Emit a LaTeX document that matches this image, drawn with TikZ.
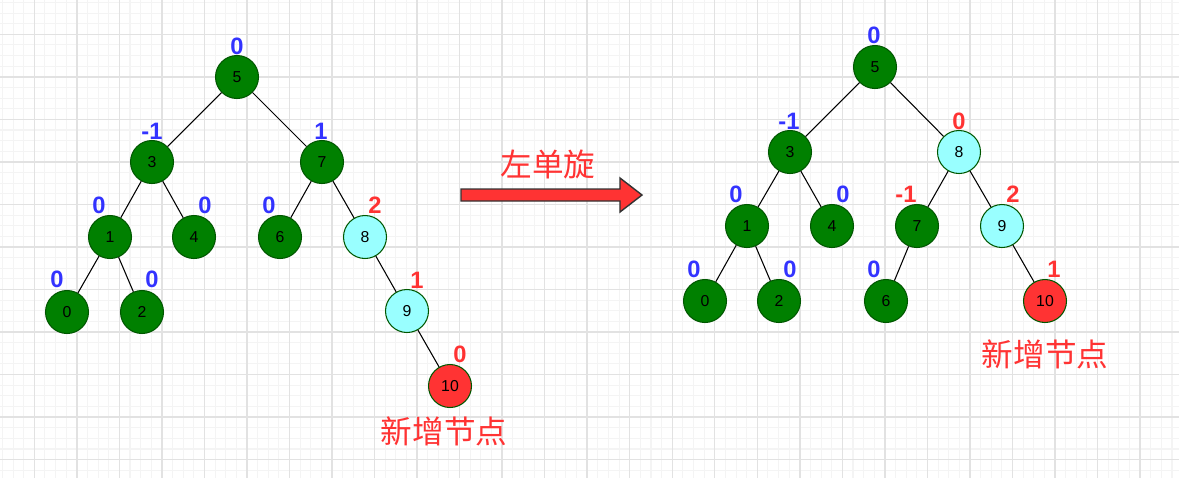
\documentclass[tikz,border=0pt]{standalone}
\usepackage{fontspec}
\setmainfont{Liberation Sans}
\newfontfamily\cjk{Noto Sans CJK SC}
\usetikzlibrary{arrows.meta}
\definecolor{avlgreen}{RGB}{0,128,0}
\definecolor{avledge}{RGB}{0,87,0}
\definecolor{avlcyan}{RGB}{153,255,255}
\definecolor{avlred}{RGB}{255,51,51}
\definecolor{avlblue}{RGB}{51,51,255}
\definecolor{gridminor}{RGB}{244,244,244}
\definecolor{gridmajor}{RGB}{226,226,226}

\begin{document}
\begin{tikzpicture}[x=0.02cm, y=-0.02cm,
  tnode/.style={circle, draw=avledge, line width=0.6pt, fill=avlgreen,
                minimum size=0.86cm, inner sep=0pt, font=\fontsize{9}{9}\selectfont},
  hot/.style={tnode, fill=avlcyan},
  fresh/.style={tnode, fill=avlred},
  link/.style={line width=0.6pt, color=black},
  bf/.style={font=\fontsize{13.5}{13.5}\selectfont\bfseries, color=avlblue, inner sep=0pt},
  bfhot/.style={bf, color=avlred},
  tag/.style={font=\fontsize{18}{18}\selectfont\cjk, color=avlred, inner sep=0pt},
  turn/.style={draw=black!80, line width=0.8pt, fill=avlred}
]
  \useasboundingbox (0,0) rectangle (1179,478);
  \fill[white] (0,0) rectangle (1179,478);

  % background grid
  \foreach \k in {0,...,110}
    \draw[gridminor, line width=0.6pt] (2.4+10.6325*\k,0) -- (2.4+10.6325*\k,478);
  \foreach \k in {0,...,44}
    \draw[gridminor, line width=0.6pt] (0,2.4+10.6325*\k) -- (1179,2.4+10.6325*\k);
  \foreach \k in {0,...,26}
    \draw[gridmajor, line width=0.8pt] (34.3+42.53*\k,0) -- (34.3+42.53*\k,478);
  \foreach \k in {0,...,10}
    \draw[gridmajor, line width=0.8pt] (0,34.3+42.53*\k) -- (1179,34.3+42.53*\k);

  % before rotation
  \node[tnode] (l5)  at (237,77)  {5};
  \node[tnode] (l3)  at (152,162) {3};
  \node[tnode] (l7)  at (322,162) {7};
  \node[tnode] (l1)  at (110,237) {1};
  \node[tnode] (l4)  at (194,237) {4};
  \node[tnode] (l6)  at (280,237) {6};
  \node[hot]   (l8)  at (365,237) {8};
  \node[tnode] (l0)  at (67,312)  {0};
  \node[tnode] (l2)  at (142,312) {2};
  \node[hot]   (l9)  at (407,311) {9};
  \node[fresh] (l10) at (450,386) {10};

  \draw[link] (l5) -- (l3);
  \draw[link] (l5) -- (l7);
  \draw[link] (l3) -- (l1);
  \draw[link] (l3) -- (l4);
  \draw[link] (l7) -- (l6);
  \draw[link] (l7) -- (l8);
  \draw[link] (l1) -- (l0);
  \draw[link] (l1) -- (l2);
  \draw[link] (l8) -- (l9);
  \draw[link] (l9) -- (l10);

  \node[bf]    (bl5)  at (237,46)  {0};
  \node[bf]    (bl3)  at (152,131) {-1};
  \node[bf]    (bl7)  at (321,131) {1};
  \node[bf]    (bl1)  at (99,205)  {0};
  \node[bf]    (bl4)  at (205,205) {0};
  \node[bf]    (bl6)  at (269,205) {0};
  \node[bfhot] (bl8)  at (375,205) {2};
  \node[bf]    (bl0)  at (57,279)  {0};
  \node[bf]    (bl2)  at (152,279) {0};
  \node[bfhot] (bl9)  at (417,280) {1};
  \node[bfhot] (bl10) at (460,354) {0};

  \node[tag] (newl) at (444,431) {新增节点};

  % rotation arrow
  \draw[turn] (461,189) -- (620,189) -- (620,178) -- (642,195)
              -- (620,212) -- (620,201) -- (461,201) -- cycle;
  \node[tag] (rot) at (548,164) {左单旋};

  % after rotation
  \node[tnode] (r5)  at (875,67)   {5};
  \node[tnode] (r3)  at (790,152)  {3};
  \node[hot]   (r8)  at (959,152)  {8};
  \node[tnode] (r1)  at (747,226)  {1};
  \node[tnode] (r4)  at (832,226)  {4};
  \node[tnode] (r7)  at (917,226)  {7};
  \node[hot]   (r9)  at (1002,226) {9};
  \node[tnode] (r0)  at (705,301)  {0};
  \node[tnode] (r2)  at (779,301)  {2};
  \node[tnode] (r6)  at (886,301)  {6};
  \node[fresh] (r10) at (1045,301) {10};

  \draw[link] (r5) -- (r3);
  \draw[link] (r5) -- (r8);
  \draw[link] (r3) -- (r1);
  \draw[link] (r3) -- (r4);
  \draw[link] (r8) -- (r7);
  \draw[link] (r8) -- (r9);
  \draw[link] (r1) -- (r0);
  \draw[link] (r1) -- (r2);
  \draw[link] (r7) -- (r6);
  \draw[link] (r9) -- (r10);

  \node[bf]    (br5)  at (874,35)   {0};
  \node[bf]    (br3)  at (789,121)  {-1};
  \node[bfhot] (br8)  at (959,121)  {0};
  \node[bf]    (br1)  at (736,194)  {0};
  \node[bf]    (br4)  at (843,194)  {0};
  \node[bfhot] (br7)  at (906,194)  {-1};
  \node[bfhot] (br9)  at (1013,194) {2};
  \node[bf]    (br0)  at (694,269)  {0};
  \node[bf]    (br2)  at (790,269)  {0};
  \node[bf]    (br6)  at (874,269)  {0};
  \node[bfhot] (br10) at (1054,269) {1};

  \node[tag] (newr) at (1045,354) {新增节点};
\end{tikzpicture}
\end{document}
